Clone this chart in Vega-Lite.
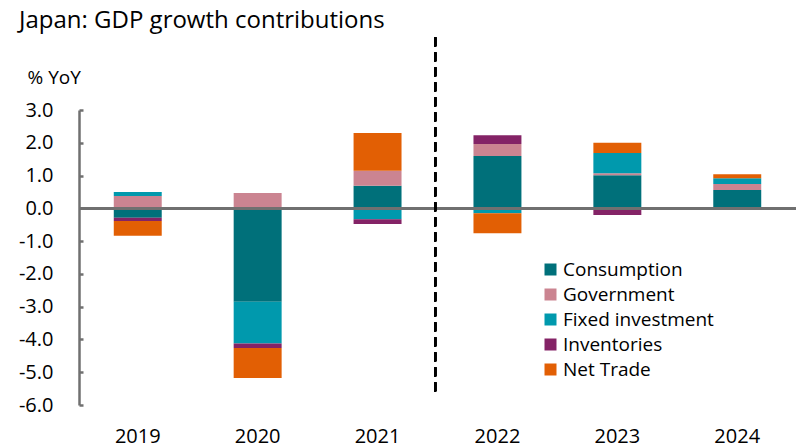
{
  "$schema": "https://vega.github.io/schema/vega-lite/v6.json",
  "width": 717,
  "height": 295,
  "autosize": {"type": "none"},
  "padding": {"left": 79, "top": 110, "right": 0, "bottom": 42},
  "background": "white",
  "title": {
    "text": "Japan: GDP growth contributions",
    "anchor": "start",
    "frame": "group",
    "dx": -60,
    "dy": 20,
    "baseline": "alphabetic",
    "font": "Open Sans",
    "fontSize": 24,
    "fontWeight": "normal",
    "color": "#000000"
  },
  "config": {
    "view": {"stroke": null},
    "font": "Open Sans"
  },
  "data": {
    "values": [
      {"year": "2019", "component": "Consumption", "i": 1, "value": -0.29},
      {"year": "2019", "component": "Government", "i": 2, "value": 0.38},
      {"year": "2019", "component": "Fixed investment", "i": 3, "value": 0.12},
      {"year": "2019", "component": "Inventories", "i": 4, "value": -0.10},
      {"year": "2019", "component": "Net Trade", "i": 5, "value": -0.45},
      {"year": "2020", "component": "Consumption", "i": 1, "value": -2.85},
      {"year": "2020", "component": "Government", "i": 2, "value": 0.47},
      {"year": "2020", "component": "Fixed investment", "i": 3, "value": -1.27},
      {"year": "2020", "component": "Inventories", "i": 4, "value": -0.14},
      {"year": "2020", "component": "Net Trade", "i": 5, "value": -0.92},
      {"year": "2021", "component": "Consumption", "i": 1, "value": 0.69},
      {"year": "2021", "component": "Government", "i": 2, "value": 0.46},
      {"year": "2021", "component": "Fixed investment", "i": 3, "value": -0.33},
      {"year": "2021", "component": "Inventories", "i": 4, "value": -0.15},
      {"year": "2021", "component": "Net Trade", "i": 5, "value": 1.15},
      {"year": "2022", "component": "Consumption", "i": 1, "value": 1.60},
      {"year": "2022", "component": "Government", "i": 2, "value": 0.36},
      {"year": "2022", "component": "Fixed investment", "i": 3, "value": -0.15},
      {"year": "2022", "component": "Inventories", "i": 4, "value": 0.27},
      {"year": "2022", "component": "Net Trade", "i": 5, "value": -0.61},
      {"year": "2023", "component": "Consumption", "i": 1, "value": 1.01},
      {"year": "2023", "component": "Government", "i": 2, "value": 0.06},
      {"year": "2023", "component": "Fixed investment", "i": 3, "value": 0.62},
      {"year": "2023", "component": "Inventories", "i": 4, "value": -0.20},
      {"year": "2023", "component": "Net Trade", "i": 5, "value": 0.31},
      {"year": "2024", "component": "Consumption", "i": 1, "value": 0.56},
      {"year": "2024", "component": "Government", "i": 2, "value": 0.18},
      {"year": "2024", "component": "Fixed investment", "i": 3, "value": 0.18},
      {"year": "2024", "component": "Inventories", "i": 4, "value": 0.0},
      {"year": "2024", "component": "Net Trade", "i": 5, "value": 0.12}
    ]
  },
  "layer": [
    {
      "mark": {"type": "bar"},
      "encoding": {
        "x": {
          "field": "year",
          "type": "nominal",
          "scale": {"paddingInner": 0.6, "paddingOuter": 0.29},
          "axis": {
            "title": null,
            "labelAngle": 0,
            "domain": false,
            "ticks": false,
            "labelFontSize": 20,
            "labelColor": "#000000",
            "labelPadding": 21
          }
        },
        "y": {
          "field": "value",
          "type": "quantitative",
          "stack": "zero",
          "scale": {"domain": [-6, 3], "nice": false, "zero": false},
          "axis": {
            "title": "% YoY",
            "titleAngle": 0,
            "titleAlign": "left",
            "titleBaseline": "middle",
            "titleX": -52,
            "titleY": -33,
            "titleFontSize": 19,
            "titleFontWeight": "normal",
            "titleColor": "#000000",
            "values": [-6, -5, -4, -3, -2, -1, 0, 1, 2, 3],
            "labelExpr": "datum.value < 0 ? '-' + format(abs(datum.value), '.1f') : format(datum.value, '.1f')",
            "labelOverlap": false,
            "labelFontSize": 20,
            "labelColor": "#000000",
            "labelPadding": 30,
            "grid": false,
            "domainColor": "#707070",
            "domainWidth": 2.5,
            "tickColor": "#707070",
            "tickWidth": 2.5,
            "tickSize": -4
          }
        },
        "color": {
          "field": "component",
          "type": "nominal",
          "scale": {
            "domain": ["Consumption", "Government", "Fixed investment", "Inventories", "Net Trade"],
            "range": ["#00707A", "#CB8491", "#0099AD", "#842366", "#E25F04"]
          },
          "legend": {
            "title": null,
            "orient": "none",
            "legendX": 462,
            "legendY": 150,
            "symbolType": "square",
            "symbolSize": 144,
            "symbolStrokeWidth": 0,
            "labelFontSize": 19,
            "labelColor": "#000000",
            "labelOffset": 3,
            "rowPadding": 5
          }
        },
        "order": {"field": "i", "type": "quantitative", "sort": "ascending"}
      }
    },
    {
      "mark": {"type": "rule", "color": "#707070", "strokeWidth": 2.5},
      "encoding": {
        "y": {
          "datum": 0,
          "type": "quantitative",
          "scale": {"domain": [-6, 3], "nice": false, "zero": false},
          "axis": {
            "title": "% YoY",
            "titleAngle": 0,
            "titleAlign": "left",
            "titleBaseline": "middle",
            "titleX": -52,
            "titleY": -33,
            "titleFontSize": 19,
            "titleFontWeight": "normal",
            "titleColor": "#000000",
            "values": [-6, -5, -4, -3, -2, -1, 0, 1, 2, 3],
            "labelExpr": "datum.value < 0 ? '-' + format(abs(datum.value), '.1f') : format(datum.value, '.1f')",
            "labelOverlap": false,
            "labelFontSize": 20,
            "labelColor": "#000000",
            "labelPadding": 30,
            "grid": false,
            "domainColor": "#707070",
            "domainWidth": 2.5,
            "tickColor": "#707070",
            "tickWidth": 2.5,
            "tickSize": -4
          }
        }
      }
    },
    {
      "mark": {"type": "rule", "color": "#000000", "strokeWidth": 2, "strokeDash": [9, 6], "clip": false},
      "encoding": {
        "x": {"datum": "2021", "type": "nominal", "bandPosition": 1.7},
        "y": {
          "datum": 5.22,
          "type": "quantitative",
          "scale": {"domain": [-6, 3], "nice": false, "zero": false},
          "axis": {
            "title": "% YoY",
            "titleAngle": 0,
            "titleAlign": "left",
            "titleBaseline": "middle",
            "titleX": -52,
            "titleY": -33,
            "titleFontSize": 19,
            "titleFontWeight": "normal",
            "titleColor": "#000000",
            "values": [-6, -5, -4, -3, -2, -1, 0, 1, 2, 3],
            "labelExpr": "datum.value < 0 ? '-' + format(abs(datum.value), '.1f') : format(datum.value, '.1f')",
            "labelOverlap": false,
            "labelFontSize": 20,
            "labelColor": "#000000",
            "labelPadding": 30,
            "grid": false,
            "domainColor": "#707070",
            "domainWidth": 2.5,
            "tickColor": "#707070",
            "tickWidth": 2.5,
            "tickSize": -4
          }
        },
        "y2": {"datum": -5.69}
      }
    }
  ]
}
